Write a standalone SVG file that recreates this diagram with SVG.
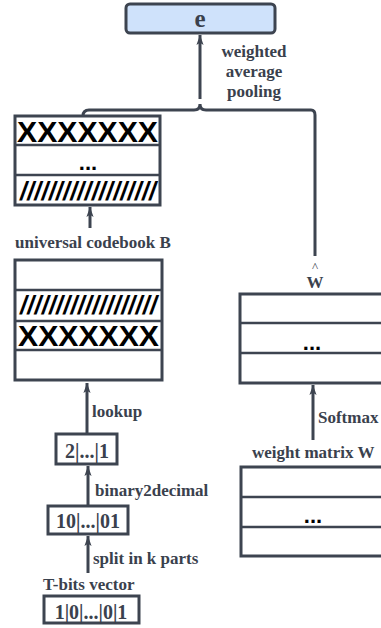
<svg xmlns="http://www.w3.org/2000/svg" width="381" height="628" viewBox="0 0 381 628">
<style>
  .box{fill:#ffffff;stroke:#3d4450;stroke-width:3}
  .sep{stroke:#3d4450;stroke-width:2.5}
  .edge{fill:none;stroke:#3d4450;stroke-width:3}
  .lbl{font-family:"Liberation Serif","Times New Roman",serif;font-weight:bold;font-size:17px;fill:#3a414d}
  .num{font-family:"Liberation Serif",serif;font-weight:bold;font-size:20px;fill:#3a414d;text-anchor:middle}
  .xx{font-family:"Liberation Sans",Arial,sans-serif;font-weight:bold;font-size:30px;fill:#000000}
  .sl{font-family:"Liberation Sans",Arial,sans-serif;font-weight:bold;font-style:italic;font-size:25px;fill:#000000}
  .dots{font-family:"Liberation Sans",Arial,sans-serif;font-weight:bold;font-size:22px;fill:#000000;text-anchor:middle}
</style>
<defs>
  <marker id="arr" markerUnits="userSpaceOnUse" markerWidth="10" markerHeight="14" viewBox="0 0 14 10" refX="14" refY="5" orient="auto">
    <path d="M0,0 L14,5 L0,10 L3,5 z" fill="#3d4450"/>
  </marker>
</defs>

<g id="connectors">
  <path class="edge" d="M200,99 L200,35" marker-end="url(#arr)"/>
  <path class="edge" stroke-width="2.5" d="M83,116 Q83,110 89,110 L194,110 Q200,110 200,104 Q200,110 206,110 L311,110 Q315,110 315,115 L315,256"/>
  <path class="edge" d="M90,228 L90,207" marker-end="url(#arr)"/>
  <path class="edge" d="M87,433 L87,383" marker-end="url(#arr)"/>
  <path class="edge" d="M88,506 L88,466" marker-end="url(#arr)"/>
  <path class="edge" d="M88,573 L88,536" marker-end="url(#arr)"/>
  <path class="edge" d="M313,440 L313,385" marker-end="url(#arr)"/>
  <text class="lbl" x="254" y="57" text-anchor="middle">weighted</text>
  <text class="lbl" x="254" y="77" text-anchor="middle">average</text>
  <text class="lbl" x="254" y="97" text-anchor="middle">pooling</text>
  <text class="lbl" x="92" y="417">lookup</text>
  <text class="lbl" x="95" y="496">binary2decimal</text>
  <text class="lbl" x="93" y="564">split in k parts</text>
  <text class="lbl" x="318" y="423">Softmax</text>
</g>

<g id="e">
  <rect x="126" y="4" width="149" height="29" rx="4" fill="#cfe2fb" stroke="#3d4450" stroke-width="3"/>
  <text x="200" y="27" text-anchor="middle" font-family="Liberation Serif,serif" font-weight="bold" font-size="25" fill="#3a414d">e</text>
</g>

<g id="codebook-top">
  <rect class="box" x="15" y="116" width="145" height="89"/>
  <line class="sep" x1="15" y1="145" x2="160" y2="145"/>
  <line class="sep" x1="15" y1="175" x2="160" y2="175"/>
  <text class="xx" x="17" y="142" textLength="141" lengthAdjust="spacingAndGlyphs">XXXXXXX</text>
  <text class="dots" x="88" y="170">...</text>
  <text class="sl" x="20" y="200" textLength="136" lengthAdjust="spacing">///////////////////</text>
</g>

<g id="codebook-label">
  <text class="lbl" x="15" y="248">universal codebook B</text>
</g>

<g id="codebook-bottom">
  <rect class="box" x="15" y="260" width="147" height="120"/>
  <line class="sep" x1="15" y1="290" x2="162" y2="290"/>
  <line class="sep" x1="15" y1="321" x2="162" y2="321"/>
  <line class="sep" x1="15" y1="350" x2="162" y2="350"/>
  <text class="sl" x="20" y="314" textLength="137" lengthAdjust="spacing">///////////////////</text>
  <text class="xx" x="18" y="346" textLength="141" lengthAdjust="spacingAndGlyphs">XXXXXXX</text>
</g>

<g id="dec">
  <rect class="box" x="56" y="434" width="61" height="30"/>
  <text class="num" x="87" y="458" font-size="19">2|...|1</text>
</g>

<g id="parts">
  <rect class="box" x="48" y="506" width="80" height="28"/>
  <text class="num" x="88" y="528">10|...|01</text>
</g>

<g id="tbits">
  <text class="lbl" x="43" y="590">T-bits vector</text>
  <rect class="box" x="44" y="596" width="95" height="27"/>
  <text class="num" x="91" y="619">1|0|...|0|1</text>
</g>

<g id="w-hat">
  <text x="315" y="271" text-anchor="middle" font-family="Liberation Serif,serif" font-size="13" fill="#3a414d">^</text>
  <text class="lbl" x="315" y="288" text-anchor="middle" font-size="15">W</text>
  <rect class="box" x="240" y="294" width="150" height="89"/>
  <line class="sep" x1="240" y1="323" x2="390" y2="323"/>
  <line class="sep" x1="240" y1="353" x2="390" y2="353"/>
  <text class="dots" x="312" y="350">...</text>
</g>

<g id="weight-matrix">
  <text class="lbl" x="252" y="458">weight matrix W</text>
  <rect class="box" x="241" y="467" width="150" height="89"/>
  <line class="sep" x1="241" y1="497" x2="391" y2="497"/>
  <line class="sep" x1="241" y1="527" x2="391" y2="527"/>
  <text class="dots" x="313" y="523">...</text>
</g>
</svg>
